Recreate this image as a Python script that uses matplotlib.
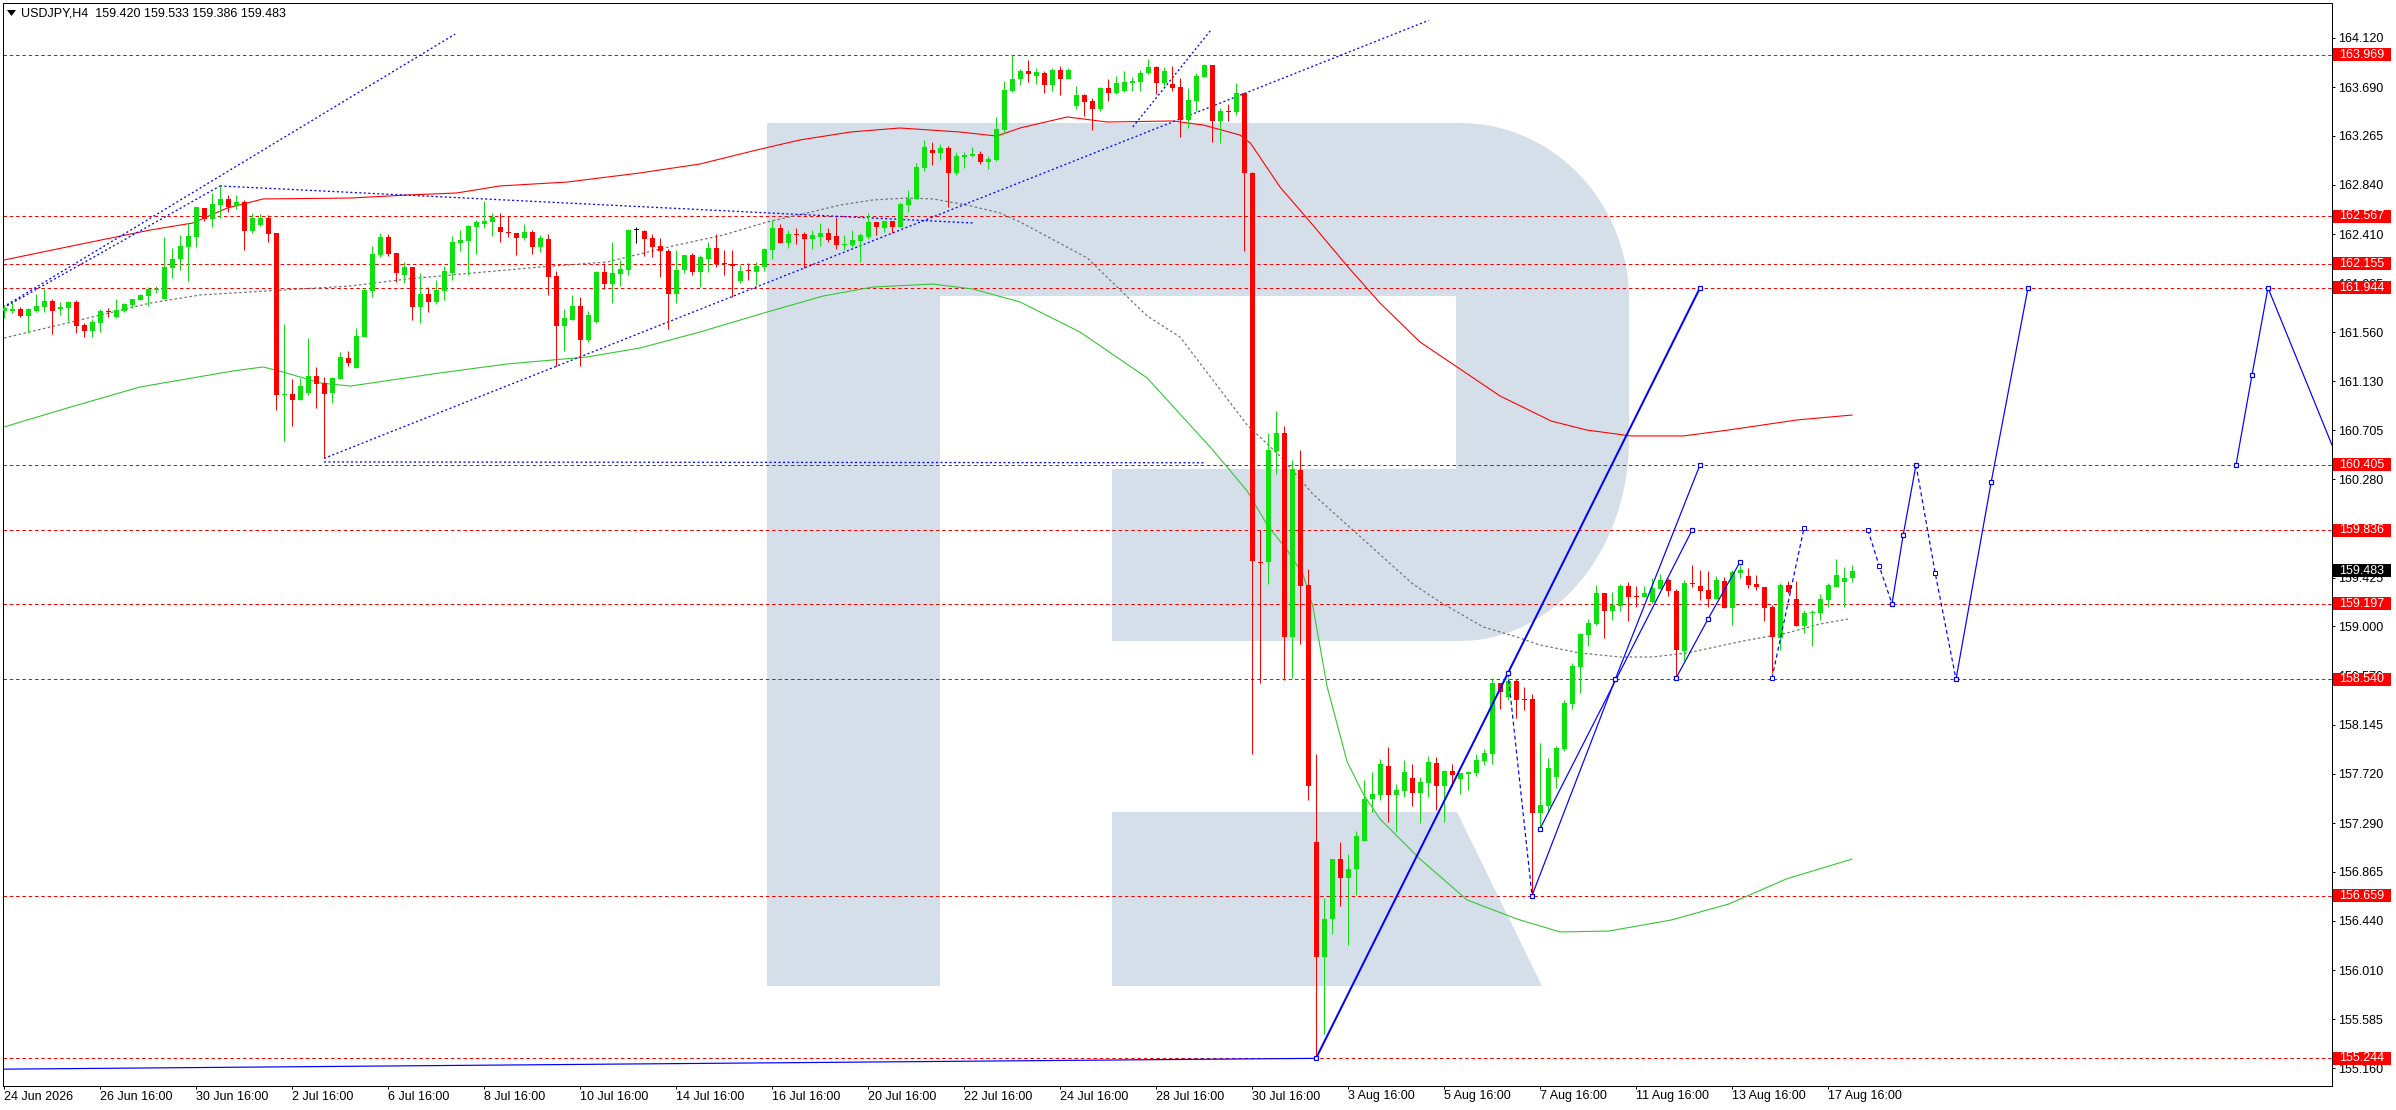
import numpy as np
import matplotlib
matplotlib.use("Agg")
import matplotlib.pyplot as plt
from matplotlib.patches import Polygon, Rectangle
from matplotlib import transforms

plt.rcParams['font.family'] = ['Liberation Sans', 'DejaVu Sans']
plt.rcParams['lines.scale_dashes'] = False

# ---------------- data ----------------
title_text = "USDJPY,H4  159.420 159.533 159.386 159.483"

opens = [161.746,161.746,161.760,161.702,161.746,161.781,161.830,161.757,161.772,161.821,
161.621,161.572,161.641,161.740,161.694,161.746,161.795,161.841,161.876,161.925,
161.850,162.120,162.192,162.302,162.389,162.635,162.546,162.667,162.717,162.656,
162.688,162.441,162.488,162.548,162.421,161.012,161.018,160.969,161.027,161.178,
161.114,161.027,161.152,161.334,161.250,161.519,161.919,162.230,162.383,162.247,
162.059,162.125,161.781,161.891,161.824,161.919,162.073,162.337,162.354,162.476,
162.502,162.517,162.473,162.433,162.421,162.381,162.433,162.302,162.369,162.047,
161.615,161.664,161.786,161.490,161.644,162.082,161.980,162.064,162.099,162.447,
162.438,162.375,162.308,162.264,161.894,162.099,162.230,162.085,162.198,162.291,
162.151,162.151,162.004,162.090,162.085,162.128,162.273,162.464,162.337,162.409,
162.412,162.372,162.389,162.421,162.395,162.320,162.317,162.354,162.383,162.517,
162.467,162.525,162.476,162.664,162.714,162.989,163.143,163.119,163.160,162.945,
163.084,163.091,163.108,163.041,163.056,163.317,163.658,163.757,163.830,163.789,
163.812,163.711,163.838,163.763,163.528,163.618,163.569,163.502,163.682,163.641,
163.656,163.728,163.737,163.810,163.867,163.728,163.717,163.691,163.404,163.569,
163.780,163.882,163.397,163.482,163.476,163.641,162.943,159.560,159.556,160.525,
160.682,158.904,160.360,159.360,157.125,156.121,156.456,156.977,156.812,156.891,
157.134,157.499,157.534,157.786,157.534,157.569,157.682,157.551,157.638,157.812,
157.612,157.743,157.673,157.717,157.725,157.830,157.891,158.508,158.386,158.525,
158.369,158.369,157.377,157.438,157.691,157.934,158.325,158.647,158.925,159.021,
159.291,159.134,159.177,159.351,159.264,159.256,159.212,159.325,159.404,159.308,
158.786,159.377,159.351,159.317,159.238,159.395,159.160,159.464,159.438,159.369,
159.343,159.169,158.899,159.360,159.238,159.003,159.117,159.117,159.230,159.343,
159.386,159.420]

closes = [161.766,161.760,161.702,161.760,161.786,161.830,161.746,161.778,161.824,161.615,
161.572,161.644,161.743,161.731,161.752,161.801,161.844,161.882,161.931,161.937,
162.125,162.195,162.308,162.395,162.647,162.546,162.673,162.717,162.650,162.690,
162.441,162.548,162.548,162.415,161.012,161.021,160.969,161.088,161.178,161.108,
161.021,161.160,161.343,161.293,161.525,161.925,162.238,162.383,162.241,162.070,
162.128,161.781,161.891,161.824,161.925,162.090,162.343,162.360,162.482,162.517,
162.525,162.563,162.433,162.418,162.381,162.430,162.302,162.378,162.041,161.615,
161.682,161.786,161.493,161.708,162.082,161.980,162.073,162.108,162.447,162.447,
162.369,162.299,162.261,161.894,162.099,162.230,162.085,162.209,162.291,162.151,
162.148,162.137,162.090,162.087,162.134,162.282,162.464,162.337,162.412,162.406,
162.372,162.404,162.421,162.360,162.320,162.325,162.360,162.404,162.517,162.476,
162.525,162.476,162.673,162.717,162.992,163.169,163.119,163.160,162.945,163.091,
163.099,163.108,163.041,163.064,163.325,163.664,163.757,163.830,163.801,163.821,
163.711,163.838,163.763,163.838,163.621,163.563,163.502,163.682,163.641,163.728,
163.734,163.743,163.812,163.867,163.728,163.830,163.684,163.404,163.577,163.789,
163.884,163.397,163.484,163.477,163.641,162.945,159.569,159.551,160.534,160.682,
158.904,160.369,159.355,157.612,156.121,156.456,156.977,156.812,156.891,157.177,
157.499,157.543,157.804,157.534,157.577,157.734,157.551,157.647,157.821,157.612,
157.743,157.708,157.725,157.734,157.838,157.899,158.508,158.430,158.525,158.360,
158.360,157.377,157.447,157.769,157.943,158.334,158.656,158.934,159.030,159.291,
159.134,159.186,159.351,159.256,159.256,159.291,159.334,159.404,159.308,158.795,
159.377,159.369,159.308,159.238,159.404,159.160,159.473,159.491,159.360,159.343,
159.160,158.908,159.360,159.299,159.003,159.117,159.125,159.238,159.360,159.447,
159.421,159.483]

highs = [161.795,161.824,161.781,161.772,161.891,161.931,161.847,161.818,161.830,161.838,
161.641,161.670,161.760,161.769,161.844,161.810,161.850,161.891,161.955,161.963,
162.386,162.291,162.404,162.505,162.650,162.641,162.769,162.830,162.751,162.751,
162.708,162.592,162.586,162.577,162.421,161.630,161.152,161.163,161.505,161.259,
161.172,161.172,161.386,161.395,161.592,161.940,162.308,162.421,162.412,162.247,
162.169,162.125,162.073,161.951,162.012,162.134,162.395,162.450,162.493,162.537,
162.699,162.595,162.595,162.569,162.424,162.499,162.447,162.404,162.412,162.090,
161.760,161.882,161.867,161.743,162.090,162.157,162.346,162.186,162.459,162.470,
162.450,162.412,162.375,162.279,162.273,162.230,162.244,162.230,162.343,162.412,
162.273,162.273,162.143,162.157,162.172,162.288,162.534,162.499,162.447,162.461,
162.427,162.447,162.511,162.461,162.563,162.404,162.447,162.421,162.595,162.517,
162.525,162.525,162.690,162.795,163.027,163.230,163.212,163.195,163.177,163.125,
163.125,163.169,163.134,163.091,163.430,163.743,163.969,163.844,163.925,163.853,
163.832,163.853,163.873,163.853,163.699,163.630,163.592,163.693,163.757,163.786,
163.830,163.780,163.838,163.934,163.873,163.867,163.876,163.766,163.679,163.815,
163.891,163.882,163.505,163.543,163.728,163.641,162.951,159.838,160.682,160.873,
160.743,160.447,160.534,159.499,157.891,156.638,156.977,157.125,157.021,157.221,
157.664,157.734,157.847,157.951,157.630,157.838,157.804,157.691,157.873,157.864,
157.751,157.804,157.725,157.743,157.891,157.934,158.551,158.508,158.560,158.543,
158.473,158.412,157.986,157.856,157.960,158.360,158.682,158.943,159.064,159.360,
159.291,159.299,159.369,159.386,159.351,159.351,159.421,159.456,159.421,159.325,
159.404,159.534,159.491,159.482,159.438,159.430,159.491,159.534,159.508,159.447,
159.343,159.186,159.377,159.395,159.395,159.143,159.143,159.282,159.377,159.586,
159.517,159.533]

lows = [161.679,161.722,161.688,161.549,161.737,161.737,161.540,161.708,161.656,161.554,
161.519,161.519,161.563,161.694,161.685,161.737,161.766,161.838,161.789,161.897,
161.850,162.033,162.102,162.006,162.302,162.528,162.476,162.548,162.601,162.630,
162.273,162.418,162.482,162.346,160.882,160.615,160.746,160.969,161.012,160.899,
160.461,160.946,161.152,161.264,161.250,161.519,161.867,162.215,162.224,161.998,
161.989,161.667,161.641,161.737,161.801,161.841,162.009,162.267,162.053,162.241,
162.467,162.395,162.346,162.389,162.233,162.360,162.241,162.256,161.885,161.267,
161.398,161.664,161.267,161.476,161.635,161.937,161.815,161.960,162.056,162.337,
162.218,162.215,162.041,161.589,161.815,162.070,162.056,161.955,162.085,162.128,
162.056,161.867,161.989,162.012,161.969,162.094,162.195,162.337,162.293,162.325,
162.114,162.282,162.308,162.346,162.285,162.273,162.302,162.172,162.372,162.404,
162.433,162.418,162.470,162.606,162.714,162.963,163.012,163.056,162.647,162.928,
162.989,163.084,163.024,162.977,163.050,163.282,163.650,163.708,163.737,163.714,
163.636,163.658,163.621,163.763,163.499,163.441,163.317,163.482,163.571,163.630,
163.650,163.658,163.656,163.804,163.627,163.702,163.658,163.258,163.331,163.484,
163.775,163.215,163.201,163.397,163.444,162.267,157.891,158.512,159.369,160.325,
158.534,158.551,158.847,157.491,155.244,155.456,156.325,156.569,156.230,156.664,
157.134,157.386,157.491,157.299,157.212,157.517,157.438,157.291,157.517,157.404,
157.299,157.612,157.543,157.577,157.699,157.795,157.804,158.282,158.360,158.204,
158.273,156.659,157.247,157.386,157.595,157.917,158.282,158.421,158.830,159.012,
158.899,159.056,159.134,159.047,159.169,159.256,159.204,159.325,159.264,158.560,
158.699,159.343,159.230,159.169,159.238,159.160,159.012,159.421,159.334,159.317,
159.047,158.595,158.795,159.291,159.000,158.943,158.830,159.056,159.169,159.343,
159.169,159.386]

# moving averages sampled along the chart (bar index, price)
red_ma_x = [0, 9.1, 18.3, 23.6, 27.9, 32.4, 43.3, 50.4, 56.6, 62, 70.4, 79.5, 87, 94.1, 99.5,
            105.8, 112, 119.5, 124.1, 127, 132.9, 137.9, 146.1, 149.9, 154.5, 155.8, 159.5,
            163.6, 167.9, 172, 177, 187, 193.4, 197.8, 203.4, 209.9, 215.6, 224.1, 231]
red_ma_y = [162.186, 162.317, 162.447, 162.508, 162.638, 162.717, 162.725, 162.751, 162.769,
            162.830, 162.864, 162.943, 163.021, 163.143, 163.230, 163.299, 163.334, 163.299,
            163.264, 163.334, 163.430, 163.386, 163.395, 163.360, 163.273, 163.203, 162.821,
            162.490, 162.134, 161.812, 161.473, 161.004, 160.786, 160.708, 160.656, 160.656,
            160.708, 160.795, 160.838]

green_ma_x = [0, 7.9, 17, 28.6, 32.4, 34.9, 39.5, 43.3, 54.5, 62.9, 72.9, 79.5, 87, 95.4, 102.4,
              108.6, 116.1, 121.1, 127, 134.5, 142.9, 151.1, 155.4, 157.9, 160.4, 162.4, 163.6,
              165.4, 167.9, 169.9, 172, 177, 182.9, 189.1, 194.5, 200.6, 208.4, 215.6, 222.8, 231]
green_ma_y = [160.734, 160.899, 161.082, 161.221, 161.256, 161.212, 161.117, 161.090, 161.204,
              161.282, 161.343, 161.421, 161.560, 161.734, 161.873, 161.951, 161.977, 161.934,
              161.821, 161.560, 161.160, 160.534, 160.177, 159.882, 159.664, 159.447, 159.177,
              158.473, 157.821, 157.543, 157.325, 156.977, 156.621, 156.456, 156.343, 156.351,
              156.447, 156.586, 156.804, 156.977]

gray_ma_x = [0, 7.9, 18.3, 24.5, 32.9, 43.3, 50.4, 58.6, 67, 75.4, 83.6, 89.9, 95.4, 100.4, 104.5,
             108.6, 112.9, 116.1, 120.4, 124.5, 127, 135.4, 142.9, 147, 155.4, 159.5, 163.6, 167.9,
             176.1, 179.5, 184.9, 189.1, 192, 197, 202, 206.1, 210.4, 213.3, 217.4, 222.9, 227, 230.5]
gray_ma_y = [161.508, 161.638, 161.812, 161.882, 161.917, 161.960, 162.021, 162.073, 162.125,
             162.169, 162.308, 162.403, 162.517, 162.595, 162.664, 162.708, 162.725, 162.717,
             162.664, 162.595, 162.517, 162.204, 161.699, 161.517, 160.751, 160.482, 160.151,
             159.882, 159.369, 159.212, 158.995, 158.908, 158.838, 158.769, 158.734, 158.734,
             158.769, 158.812, 158.873, 158.943, 159.021, 159.064]

levels = [163.969, 162.567, 162.155, 161.944, 160.405, 159.836, 159.197, 158.540, 156.659, 155.244]
current_price = 159.483

ytick_vals = [164.120, 163.690, 163.265, 162.840, 162.410, 161.985, 161.560, 161.130, 160.705,
              160.280, 159.855, 159.425, 159.000, 158.570, 158.145, 157.720, 157.290, 156.865,
              156.440, 156.010, 155.585, 155.160]

xtick_pos = list(range(0, 229, 12))
xtick_labels = ["24 Jun 2026", "26 Jun 16:00", "30 Jun 16:00", "2 Jul 16:00", "6 Jul 16:00",
                "8 Jul 16:00", "10 Jul 16:00", "14 Jul 16:00", "16 Jul 16:00", "20 Jul 16:00",
                "22 Jul 16:00", "24 Jul 16:00", "28 Jul 16:00", "30 Jul 16:00", "3 Aug 16:00",
                "5 Aug 16:00", "7 Aug 16:00", "11 Aug 16:00", "13 Aug 16:00", "17 Aug 16:00"]

# dotted blue trend lines: (bar, price) -> (bar, price)
trend_lines = [((-0.1, 161.777), (56.4, 164.151)),
               ((-0.1, 161.769), (27.0, 162.830)),
               ((27.0, 162.830), (121.1, 162.508)),
               ((40.0, 160.461), (178.1, 164.270)),
               ((141.1, 163.343), (150.8, 164.180)),
               ((40.0, 160.430), (150.0, 160.423))]
bottom_line = [(-0.1, 155.150), (164.0, 155.244)]

# forecast polylines
solid_main = [(164, 155.244), (188, 158.595), (212, 161.944)]
solid_paths = [[(191, 156.659), (201.4, 158.540), (212, 160.405)],
               [(192, 157.240), (211, 159.836)],
               [(209, 158.550), (213, 159.064), (217, 159.560)],
               [(236, 159.197), (237.4, 159.795), (239, 160.405)],
               [(244, 158.540), (248.4, 160.256), (253, 161.944)],
               [(279, 160.405), (281, 161.186), (283, 161.944), (295, 159.894)]]
dashed_paths = [[(188, 158.595), (191, 156.659)],
                [(221, 158.551), (225, 159.856)],
                [(233, 159.838), (234.4, 159.525), (236, 159.197)],
                [(239, 160.405), (241.4, 159.464), (244, 158.540)]]

# ---------------- figure ----------------
W, H, DPI = 2396, 1110, 100
PX = 72.0 / DPI
fig = plt.figure(figsize=(W / DPI, H / DPI), dpi=DPI)
fig.patch.set_facecolor('white')
L, R, T, B = 3, 2332, 3, 1086
ax = fig.add_axes([L / W, 1 - B / H, (R - L) / W, (B - T) / H])
ax.set_facecolor('white')

pix = transforms.Affine2D().scale(1.0 / W, -1.0 / H).translate(0, 1) + fig.transFigure

# watermark logo (pixel geometry)
t1 = np.linspace(np.pi / 2, 0, 30)
arc1 = np.column_stack([1460 + 169 * np.cos(t1), 300 - 177 * np.sin(t1)])
t2 = np.linspace(0, -np.pi / 2, 30)
arc2 = np.column_stack([1460 + 169 * np.cos(t2), 440 - 201 * np.sin(t2)])
outer = np.vstack([[[767, 123]], arc1, arc2,
                   [[1112, 641], [1112, 469], [1456, 469], [1456, 296], [940, 296],
                    [940, 986], [767, 986]]])
logo_col = '#d5dfea'
ax.add_patch(Polygon(outer, closed=True, transform=pix, facecolor=logo_col,
                     edgecolor='none', zorder=0.5))
ax.add_patch(Polygon([[1112, 812], [1457, 812], [1542, 986], [1112, 986]], closed=True,
                     transform=pix, facecolor=logo_col, edgecolor='none', zorder=0.5))

# horizontal levels
for lv in levels:
    ax.axhline(lv, color='#ff0000', lw=PX, dashes=(3.5 * PX, 2.8 * PX), zorder=2)

# moving averages
ax.plot(red_ma_x, red_ma_y, color='#ff0000', lw=1.1 * PX, zorder=3)
ax.plot(green_ma_x, green_ma_y, color='#33c633', lw=1.1 * PX, zorder=3)
ax.plot(gray_ma_x, gray_ma_y, color='#6e6e6e', lw=1.2 * PX, dashes=(2.5 * PX, 2.5 * PX), zorder=3)

# dotted trend lines
for (a, b) in trend_lines:
    ax.plot([a[0], b[0]], [a[1], b[1]], color='#0000ff', lw=1.3 * PX,
            dashes=(2 * PX, 2.5 * PX), zorder=3)
ax.plot([p[0] for p in bottom_line], [p[1] for p in bottom_line], color='#0000ff',
        lw=1.2 * PX, zorder=3)

# candles
o = np.array(opens); c = np.array(closes); hi = np.array(highs); lo = np.array(lows)
idx = np.arange(len(o))
cols = np.where(c > o, '#10e010', np.where(c < o, '#ff0000', '#000000'))
ax.vlines(idx, lo, hi, colors=cols, lw=1.0 * PX, zorder=4)
body_h = np.maximum(np.abs(c - o), 1.0 / 115)
ax.bar(idx, body_h, bottom=np.minimum(o, c), width=0.625, color=cols, linewidth=0, zorder=4.5)

# forecast lines
ax.plot([p[0] for p in solid_main], [p[1] for p in solid_main], color='#0000ff', lw=2 * PX, zorder=6)
for pth in solid_paths:
    ax.plot([p[0] for p in pth], [p[1] for p in pth], color='#0000ff', lw=1.2 * PX, zorder=6)
for pth in dashed_paths:
    ax.plot([p[0] for p in pth], [p[1] for p in pth], color='#0000ff', lw=1.2 * PX,
            dashes=(4 * PX, 3 * PX), zorder=6)
mk = solid_main + [p for pth in solid_paths for p in pth[:3] if p[0] <= 290]
ax.plot([p[0] for p in mk], [p[1] for p in mk], linestyle='none', marker='s', ms=5 * PX,
        mfc='white', mec='#0000ff', mew=1.2 * PX, zorder=7)
mk2 = [dashed_paths[1][0], dashed_paths[1][1], dashed_paths[2][0], dashed_paths[2][1],
       dashed_paths[3][1]]
ax.plot([p[0] for p in mk2], [p[1] for p in mk2], linestyle='none', marker='s', ms=4 * PX,
        mfc='white', mec='#0000ff', mew=1.0 * PX, zorder=7)

# axes limits & ticks
ax.set_xlim(-0.125, 291.0)
ax.set_ylim(155.0035, 164.4209)
for s in ax.spines.values():
    s.set_color('black'); s.set_linewidth(1.0 * PX)
ax.yaxis.tick_right()
ax.set_yticks(ytick_vals)
ax.set_yticklabels(["%.3f" % v for v in ytick_vals])
ax.tick_params(axis='y', direction='out', length=3 * PX, width=PX, pad=3 * PX,
               labelsize=9, colors='black')
ax.set_xticks(xtick_pos)
ax.set_xticklabels(xtick_labels, ha='left')
ax.tick_params(axis='x', direction='out', length=3 * PX, width=PX, pad=1.5 * PX,
               labelsize=9, colors='black')

# price boxes on the right scale
btrans = transforms.blended_transform_factory(pix, ax.transData)
def price_box(val, fc):
    ax.add_patch(Rectangle((2333, val - 6.5 / 115), 58, 13 / 115, transform=btrans,
                           facecolor=fc, edgecolor='none', clip_on=False, zorder=20))
    ax.text(2339, val, "%.3f" % val, transform=btrans, color='white', fontsize=9,
            ha='left', va='center', clip_on=False, zorder=21)
for lv in levels:
    price_box(lv, '#ff0000')
price_box(current_price, '#000000')

# title
fig.add_artist(Polygon([[7, 10], [16, 10], [11.5, 16]], closed=True, transform=pix,
                       facecolor='black', edgecolor='none'))
fig.text(21 / W, 1 - 13 / H, title_text, fontsize=9, ha='left', va='center', color='black')

fig.savefig('out.png', dpi=DPI, facecolor='white')
